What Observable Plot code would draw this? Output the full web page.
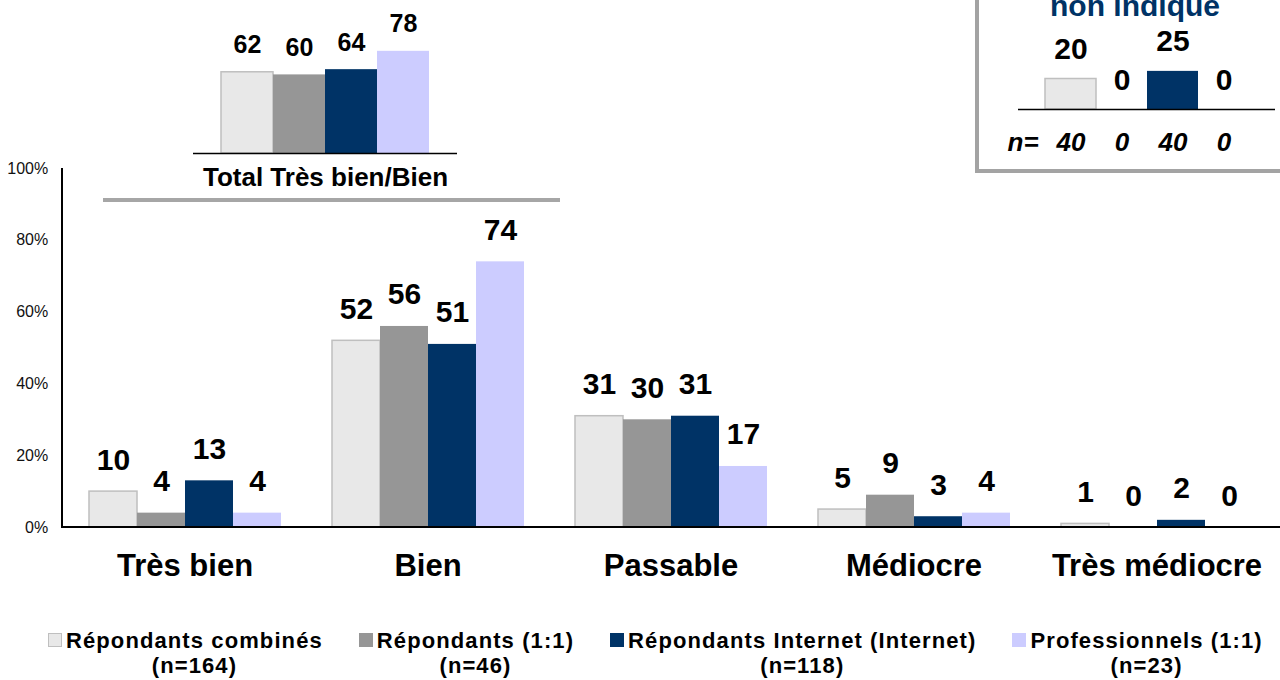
<!DOCTYPE html>
<html>
<head>
<meta charset="utf-8">
<script src="https://cdn.jsdelivr.net/npm/d3@7"></script>
<script src="https://cdn.jsdelivr.net/npm/@observablehq/plot@0.6"></script>
<style>
  body { margin: 0; background: #fff; font-family: "Liberation Sans", Arial, sans-serif; }
  #wrap { position: relative; width: 1280px; height: 680px; overflow: hidden; background: #fff; }
  #wrap svg { position: absolute; left: 0; top: 0; }
  .boxframe { position: absolute; left: 975px; top: -20px; width: 330px; height: 193px; box-sizing: border-box; border: 4px solid #a3a3a3; }
  .bracket { position: absolute; left: 103px; top: 198px; width: 457px; height: 4px; background: #a6a6a6; }
  .legend { position: absolute; left: 48px; top: 628px; display: flex; gap: 36px; align-items: flex-start; }
  .legend .item { display: flex; align-items: flex-start; }
  .legend .sw { width: 14px; height: 14px; margin-top: 5px; margin-right: 4px; box-sizing: border-box; }
  .legend .lab { font-size: 22px; font-weight: bold; line-height: 25px; letter-spacing: 1.1px; text-align: center; white-space: nowrap; color: #000; }
</style>
</head>
<body>
<div id="wrap"></div>
<script>
// ---- data ----
const categories = ["Très bien", "Bien", "Passable", "Médiocre", "Très médiocre"];
const series = ["Répondants combinés", "Répondants (1:1)", "Répondants Internet (Internet)", "Professionnels (1:1)"];
const seriesN = [164, 46, 118, 23];
const valCombines = [10, 52, 31, 5, 1];
const valUnUn = [4, 56, 30, 9, 0];
const valInternet = [13, 51, 31, 3, 2];
const valPro = [4, 74, 17, 4, 0];
const totalLabel = "Total Très bien/Bien";
const totalTresBienBien = [62, 60, 64, 78];
const nonIndiqueTitle = "non indiqué";
const nonIndique = [20, 0, 25, 0];
const nonIndiqueN = [40, 0, 40, 0];
const yTicks = [0, 20, 40, 60, 80, 100];

// ---- styles ----
const colors = ["#e8e8e8", "#969696", "#003366", "#ccccff"];
const lightStroke = "#bfbfbf";
const font = "'Liberation Sans', Arial, sans-serif";
const fillOf = d => colors[series.indexOf(d.series)];
const strokeOf = d => d.series === series[0] ? lightStroke : "none";

const seriesVals = [valCombines, valUnUn, valInternet, valPro];
const data = categories.flatMap((c, i) => series.map((s, j) => ({cat: c, series: s, value: seriesVals[j][i]})));
const totalData = series.map((s, j) => ({series: s, value: totalTresBienBien[j]}));
const niData = series.map((s, j) => ({series: s, value: nonIndique[j], n: nonIndiqueN[j]}));

const wrap = document.getElementById("wrap");

// ---- main chart ----
const M = {top: 168, bottom: 73, left: 62, right: 0, width: 1280, height: 600};
const FX_INNER = 0.196, FX_OUTER = 0.1;
// the y axis is drawn at the left edge of the first facet; shift its labels back next to the axis line
const fxStep = (M.width - M.left - M.right) / (categories.length - FX_INNER + 2 * FX_OUTER);
const yLabelPad = FX_OUTER * fxStep + 15;
const main = Plot.plot({
  width: M.width, height: M.height,
  marginTop: M.top, marginBottom: M.bottom, marginLeft: M.left, marginRight: M.right,
  style: {fontFamily: font, background: "transparent", overflow: "visible"},
  fx: {domain: categories, paddingInner: FX_INNER, paddingOuter: FX_OUTER},
  x: {domain: series, padding: 0, axis: null},
  y: {domain: [0, 100], axis: null},
  color: {type: "identity"},
  marks: [
    Plot.barY(data, {fx: "cat", x: "series", y: "value", fill: fillOf, stroke: strokeOf, strokeWidth: 1.5}),
    Plot.text(data, {fx: "cat", x: "series", y: "value", text: d => String(d.value), dy: -22,
      lineAnchor: "bottom", fontSize: 30, fontWeight: "bold", fill: "#000"}),
    Plot.axisY({ticks: yTicks, tickFormat: d => d + "%", tickSize: 0, tickPadding: yLabelPad, fontSize: 16, fill: "#111", label: null}),
    Plot.axisFx({anchor: "bottom", tickSize: 0, tickPadding: 26, fontSize: 31, fontWeight: "bold", fill: "#000", label: null})
  ]
});
wrap.appendChild(main);
{
  const y = main.scale("y");
  const s = d3.select(main);
  s.append("line").attr("x1", M.left).attr("x2", M.width - M.right)
    .attr("y1", y.apply(0)).attr("y2", y.apply(0)).attr("stroke", "#000").attr("stroke-width", 2);
  s.append("line").attr("x1", M.left).attr("x2", M.left)
    .attr("y1", y.apply(0) + 1).attr("y2", y.apply(100)).attr("stroke", "#000").attr("stroke-width", 2);
}

// bracket under the total inset
const br = document.createElement("div"); br.className = "bracket"; wrap.appendChild(br);

// ---- inset: Total Très bien/Bien ----
const inset = Plot.plot({
  width: 600, height: 200, marginTop: 22, marginBottom: 47, marginLeft: 193, marginRight: 143,
  style: {fontFamily: font, background: "transparent", overflow: "visible"},
  x: {domain: series, paddingInner: 0, paddingOuter: 0.5, axis: null},
  y: {domain: [0, 100], axis: null},
  color: {type: "identity"},
  marks: [
    Plot.barY(totalData, {x: "series", y: "value", fill: fillOf, stroke: strokeOf, strokeWidth: 1.5}),
    Plot.ruleY([0], {stroke: "#000", strokeWidth: 1.5}),
    Plot.text(totalData, {x: "series", y: "value", text: d => String(d.value), dy: -19,
      lineAnchor: "bottom", fontSize: 25, fontWeight: "bold", fill: "#000"}),
    Plot.text([totalLabel], {frameAnchor: "bottom", dy: 32, lineAnchor: "bottom", fontSize: 26, fontWeight: "bold", fill: "#000"})
  ]
});
wrap.appendChild(inset);

// ---- box: non indiqué ----
const bf = document.createElement("div"); bf.className = "boxframe"; wrap.appendChild(bf);
const box = Plot.plot({
  width: 1280, height: 180, marginTop: 48, marginBottom: 71, marginLeft: 1018, marginRight: 5,
  style: {fontFamily: font, background: "transparent", overflow: "visible"},
  x: {domain: series, paddingInner: 0, paddingOuter: 0.5, axis: null},
  y: {domain: [0, 40], axis: null},
  color: {type: "identity"},
  marks: [
    Plot.barY(niData, {x: "series", y: "value", fill: fillOf, stroke: strokeOf, strokeWidth: 1.5}),
    Plot.ruleY([0], {stroke: "#000", strokeWidth: 1.5}),
    Plot.text(niData, {x: "series", y: "value", text: d => String(d.value), dy: -20,
      lineAnchor: "bottom", fontSize: 30, fontWeight: "bold", fill: "#000"}),
    Plot.text(niData, {x: "series", frameAnchor: "bottom", text: d => String(d.n), dy: 41,
      lineAnchor: "bottom", fontSize: 26, fontWeight: "bold", fontStyle: "italic", fill: "#000"}),
    Plot.text(["n="], {frameAnchor: "bottom-left", dx: -11, dy: 41, lineAnchor: "bottom",
      fontSize: 26, fontWeight: "bold", fontStyle: "italic", fill: "#000"}),
    Plot.text([nonIndiqueTitle], {frameAnchor: "top", dx: -12, dy: -33, lineAnchor: "bottom",
      fontSize: 30, fontWeight: "bold", fill: "#003366"})
  ]
});
wrap.appendChild(box);

// ---- legend ----
const leg = document.createElement("div"); leg.className = "legend";
series.forEach((s, j) => {
  const it = document.createElement("div"); it.className = "item";
  const sw = document.createElement("div"); sw.className = "sw";
  sw.style.background = colors[j];
  if (j === 0) sw.style.border = "1px solid " + lightStroke;
  const lab = document.createElement("div"); lab.className = "lab";
  lab.innerHTML = s + "<br>(n=" + seriesN[j] + ")";
  it.appendChild(sw); it.appendChild(lab); leg.appendChild(it);
});
wrap.appendChild(leg);
</script>
</body>
</html>
